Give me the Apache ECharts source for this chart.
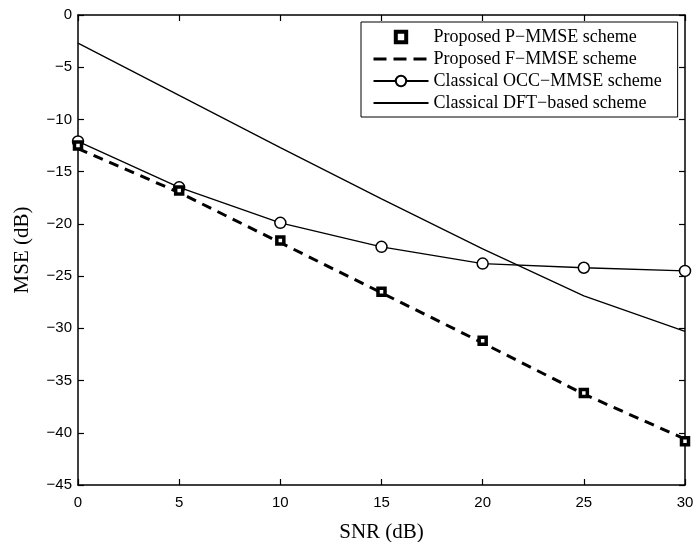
<!DOCTYPE html>
<html>
<head>
<meta charset="utf-8">
<script src="https://cdn.jsdelivr.net/npm/echarts@6/dist/echarts.min.js"></script>
<style>
  html, body { margin: 0; padding: 0; background: #fff; }
  #chart { width: 697px; height: 542px; }
</style>
</head>
<body>
<div id="chart"></div>
<script>
// SNR points (dB)
const snr = [0, 5, 10, 15, 20, 25, 30];
// MSE (dB) of each estimation scheme
const pMmse = [-12.5, -16.8, -21.6, -26.5, -31.2, -36.2, -40.8];
const fMmse = [-12.8, -17.0, -21.8, -26.6, -31.4, -36.3, -40.6];
const occMmse = [-12.1, -16.5, -19.9, -22.2, -23.8, -24.2, -24.5];
const dftBased = [-2.7, -7.7, -12.7, -17.6, -22.4, -26.9, -30.3];
// Series names
const names = [
  'Proposed P\u2212MMSE scheme',
  'Proposed F\u2212MMSE scheme',
  'Classical OCC\u2212MMSE scheme',
  'Classical DFT\u2212based scheme'
];
// Axis ranges
const xRange = { min: 0, max: 30, interval: 5 };
const yRange = { min: -45, max: 0, interval: 5 };

const pairs = ys => snr.map((x, i) => [x, ys[i]]);
const minusFmt = v => String(v).replace('-', '\u2212');

const sansFont = '"Liberation Sans", Arial, sans-serif';
const serifFont = '"Liberation Serif", "Times New Roman", serif';

function frameAxis(pos, range) {
  return Object.assign({
    type: 'value',
    position: pos,
    axisLine: { show: true, onZero: false, lineStyle: { color: '#000', width: 1.5 } },
    axisTick: { show: true, inside: true, length: 6, lineStyle: { color: '#000', width: 1.2 } },
    axisLabel: { show: false },
    splitLine: { show: false }
  }, range);
}

const hiddenSymbol = { opacity: 0 };

const chart = echarts.init(document.getElementById('chart'), null, { renderer: 'canvas' });
chart.setOption({
  animation: false,
  backgroundColor: '#fff',
  grid: { left: 78, right: 12, top: 15, bottom: 57, containLabel: false, outerBoundsMode: 'none' },
  xAxis: [
    Object.assign(frameAxis('bottom', xRange), {
      axisLabel: { show: true, margin: 10, color: '#000', fontSize: 15, fontFamily: sansFont, formatter: minusFmt },
      name: 'SNR (dB)',
      nameLocation: 'middle',
      nameGap: 37,
      nameTextStyle: { color: '#000', fontSize: 21, fontFamily: serifFont }
    }),
    frameAxis('top', xRange)
  ],
  yAxis: [
    Object.assign(frameAxis('left', yRange), {
      axisLabel: { show: true, margin: 6, color: '#000', fontSize: 15, fontFamily: sansFont, formatter: minusFmt },
      name: 'MSE (dB)',
      nameLocation: 'middle',
      nameGap: 45,
      nameTextStyle: { color: '#000', fontSize: 21, fontFamily: serifFont }
    }),
    frameAxis('right', yRange)
  ],
  legend: {
    show: true,
    orient: 'vertical',
    left: 361,
    top: 22,
    padding: [6, 16, 5, 11],
    itemWidth: 55,
    itemHeight: 13,
    itemGap: 4,
    backgroundColor: '#fff',
    borderColor: '#000',
    borderWidth: 1,
    borderRadius: 0,
    textStyle: { color: '#000', fontSize: 18, fontFamily: serifFont, lineHeight: 18 },
    data: [
      { name: names[0], itemStyle: { color: '#fff', borderColor: '#000', borderWidth: 4 } },
      { name: names[1], itemStyle: hiddenSymbol, lineStyle: { type: [13, 7], width: 3 } },
      { name: names[2] },
      { name: names[3], itemStyle: hiddenSymbol }
    ]
  },
  series: [
    {
      name: names[3],
      type: 'line',
      data: pairs(dftBased),
      symbol: 'none',
      lineStyle: { color: '#000', width: 1.3 },
      itemStyle: { color: '#000' },
      z: 2
    },
    {
      name: names[2],
      type: 'line',
      data: pairs(occMmse),
      symbol: 'circle',
      symbolSize: 11,
      lineStyle: { color: '#000', width: 1.3 },
      itemStyle: { color: '#fff', borderColor: '#000', borderWidth: 1.5 },
      z: 3
    },
    {
      name: names[1],
      type: 'line',
      data: pairs(fMmse),
      symbol: 'none',
      lineStyle: { color: '#000', width: 3, type: [10, 7] },
      itemStyle: { color: '#000' },
      z: 4
    },
    {
      name: names[0],
      type: 'line',
      data: pairs(pMmse),
      symbol: 'rect',
      symbolSize: 7,
      lineStyle: { color: '#000', width: 0, opacity: 0 },
      itemStyle: { color: '#fff', borderColor: '#000', borderWidth: 3.5 },
      z: 5
    }
  ]
});
</script>
</body>
</html>
